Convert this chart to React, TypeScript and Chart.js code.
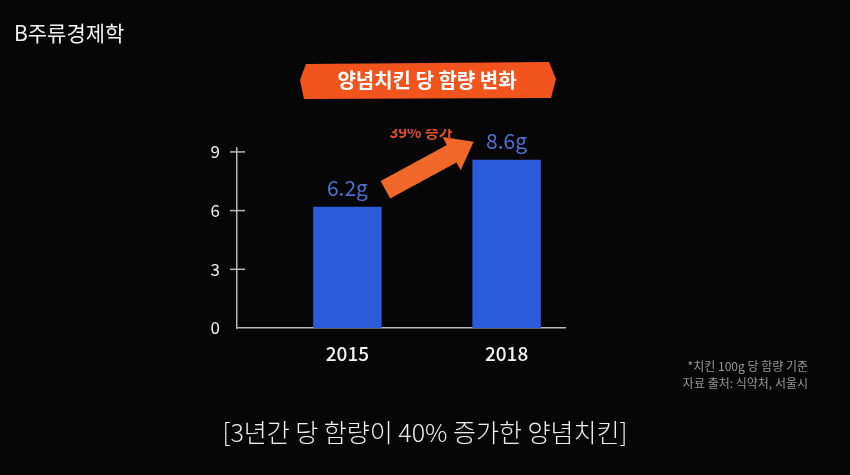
import React, { useEffect, useRef } from "react";
import { Chart, registerables } from "chart.js";

Chart.register(...registerables);

const years = ["2015", "2018"];
const sugarGrams = [6.2, 8.6];
const valueLabels = ["6.2g", "8.6g"];
const yTickValues = [0, 3, 6, 9];
const titleText = "양념치킨 당 함량 변화";
const logoText = "B주류경제학";
const increaseText = "39% 증가";
const noteLines = ["*치킨 100g 당 함량 기준", "자료 출처: 식약처, 서울시"];
const captionText = "[3년간 당 함량이 40% 증가한 양념치킨]";

const FONT = '"Noto Sans CJK KR", "Noto Sans", sans-serif';

const decorPlugin = {
  id: "decor",
  beforeDraw(chart: any) {
    const { ctx, width, height } = chart;
    ctx.save();
    ctx.fillStyle = "#060606";
    ctx.fillRect(0, 0, width, height);
    ctx.restore();
  },
  afterDatasetsDraw(chart: any) {
    const { ctx } = chart;
    const xs = chart.scales.x;
    const ys = chart.scales.y;
    ctx.save();
    // crossing tick marks on y axis
    ctx.strokeStyle = "#b8b8b8";
    ctx.lineWidth = 1.5;
    const ax = chart.chartArea.left;
    yTickValues.forEach((v) => {
      if (v === 0) return;
      const py = ys.getPixelForValue(v);
      ctx.beginPath();
      ctx.moveTo(ax - 7, py);
      ctx.lineTo(ax + 8, py);
      ctx.stroke();
    });
    // value labels
    ctx.fillStyle = "#4f70d2";
    ctx.font = `400 21px ${FONT}`;
    ctx.textAlign = "center";
    ctx.textBaseline = "alphabetic";
    years.forEach((y, i) => {
      const px = xs.getPixelForValue(Number(y));
      const py = ys.getPixelForValue(sugarGrams[i]);
      ctx.fillText(valueLabels[i], px, py - 11);
    });
    // arrow
    const x0 = xs.getPixelForValue(Number(years[0])) + 38;
    const y0 = ys.getPixelForValue(sugarGrams[0]) - 17;
    const x1 = xs.getPixelForValue(Number(years[1])) - 33;
    const y1 = ys.getPixelForValue(sugarGrams[1]) - 18;
    const ang = Math.atan2(y1 - y0, x1 - x0);
    const len = Math.hypot(x1 - x0, y1 - y0);
    ctx.translate(x0, y0);
    ctx.rotate(ang);
    ctx.fillStyle = "#f0692a";
    const sh = 10;
    const hl = 25;
    const hw = 19;
    ctx.beginPath();
    ctx.moveTo(0, -sh);
    ctx.lineTo(len - hl, -sh);
    ctx.lineTo(len - hl, -hw);
    ctx.lineTo(len, 0);
    ctx.lineTo(len - hl, hw);
    ctx.lineTo(len - hl, sh);
    ctx.lineTo(0, sh);
    ctx.closePath();
    ctx.fill();
    ctx.restore();

    // clipped increase text
    ctx.save();
    ctx.beginPath();
    ctx.rect(350, 129, 150, 20);
    ctx.clip();
    ctx.fillStyle = "#e3532a";
    ctx.font = `700 15px ${FONT}`;
    ctx.textAlign = "center";
    ctx.textBaseline = "alphabetic";
    ctx.fillText(increaseText, 421, 138);
    ctx.restore();

    // title banner
    ctx.save();
    ctx.fillStyle = "#f2541d";
    ctx.beginPath();
    ctx.moveTo(300, 80);
    ctx.lineTo(306, 64);
    ctx.lineTo(549, 62);
    ctx.lineTo(556, 79);
    ctx.lineTo(551, 98);
    ctx.lineTo(304, 99);
    ctx.closePath();
    ctx.fill();
    ctx.fillStyle = "#ffffff";
    ctx.font = `700 20px ${FONT}`;
    ctx.textAlign = "center";
    ctx.textBaseline = "middle";
    ctx.fillText(titleText, 427, 80);

    // logo
    ctx.textAlign = "left";
    ctx.font = `400 21px ${FONT}`;
    ctx.fillStyle = "#f2f2f2";
    ctx.fillText(logoText, 14, 33);

    // notes
    ctx.textAlign = "right";
    ctx.fillStyle = "#9a9a9a";
    ctx.font = `400 12px ${FONT}`;
    ctx.fillText(noteLines[0], 808, 366);
    ctx.fillText(noteLines[1], 808, 383);

    // caption
    ctx.textAlign = "center";
    ctx.fillStyle = "#efefef";
    ctx.font = `300 25px ${FONT}`;
    ctx.fillText(captionText, 425, 432);
    ctx.restore();
  },
};

export default function App() {
  const ref = useRef<HTMLCanvasElement>(null);
  useEffect(() => {
    document.body.style.margin = "0";
    document.body.style.background = "#060606";
    const chart = new Chart(ref.current as HTMLCanvasElement, {
      type: "bar",
      data: {
        datasets: [
          {
            data: years.map((y, i) => ({ x: Number(y), y: sugarGrams[i] })),
            backgroundColor: "#2c5bdc",
            borderWidth: 0,
            barPercentage: 0.43,
            categoryPercentage: 1,
          },
        ],
      },
      options: {
        animation: false,
        responsive: false,
        maintainAspectRatio: false,
        layout: { padding: { left: 0, right: 285, top: 148, bottom: 107 } },
        plugins: { legend: { display: false }, tooltip: { enabled: false } },
        scales: {
          x: {
            type: "linear",
            offset: false,
            min: 2012.92,
            max: 2019.1,
            afterBuildTicks: (axis: any) => {
              axis.ticks = years.map((y) => ({ value: Number(y) }));
            },
            afterFit: (axis: any) => {
              axis.height = 40;
            },
            grid: { display: false, drawTicks: false, offset: false },
            border: { display: true, color: "#b8b8b8", width: 1.5 },
            ticks: {
              color: "#f2f2f2",
              padding: 14,
              font: { family: FONT, size: 19, weight: "500" },
              callback: (v: any) => String(v),
            },
          },
          y: {
            min: 0,
            max: 9.2,
            afterBuildTicks: (axis: any) => {
              axis.ticks = yTickValues.map((v) => ({ value: v }));
            },
            afterFit: (axis: any) => {
              axis.width = 237;
            },
            grid: { display: false, drawTicks: false },
            border: { display: true, color: "#b8b8b8", width: 1.5 },
            ticks: {
              color: "#f0f0f0",
              padding: 17,
              font: { family: FONT, size: 17 },
            },
          },
        },
      },
      plugins: [decorPlugin],
    } as any);
    return () => chart.destroy();
  }, []);
  return <canvas ref={ref} width={850} height={475} style={{ display: "block" }} />;
}
